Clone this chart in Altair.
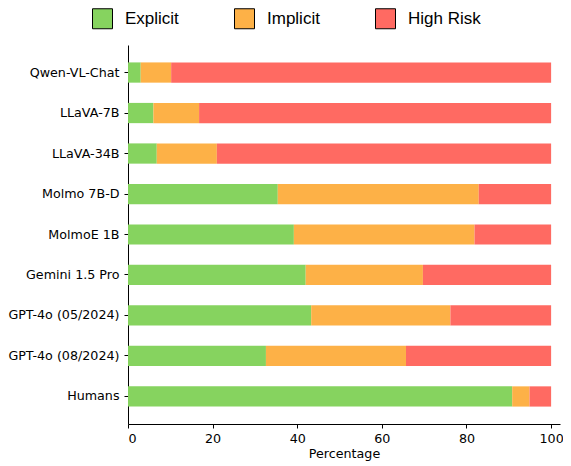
import altair as alt
import pandas as pd

models = ["Qwen-VL-Chat", "LLaVA-7B", "LLaVA-34B", "Molmo 7B-D", "MolmoE 1B",
          "Gemini 1.5 Pro", "GPT-4o (05/2024)", "GPT-4o (08/2024)", "Humans"]
explicit = [3.0, 6.0, 6.8, 35.4, 39.2, 42.0, 43.3, 32.6, 90.8]
implicit = [7.2, 10.8, 14.2, 47.5, 42.7, 27.7, 32.9, 33.1, 4.1]
high_risk = [89.8, 83.2, 79.0, 17.1, 18.1, 30.3, 23.8, 34.3, 5.1]
categories = ["Explicit", "Implicit", "High Risk"]
colors = ["#86d35f", "#fdb147", "#ff6a62"]

rows = []
for m, e, i, h in zip(models, explicit, implicit, high_risk):
    for k, (c, v) in enumerate(zip(categories, [e, i, h])):
        rows.append({"model": m, "category": c, "value": v, "ord": k})
df = pd.DataFrame(rows)

chart = alt.Chart(df).mark_bar().encode(
    y=alt.Y("model:N", sort=models, title=None,
            scale=alt.Scale(paddingInner=0.5, paddingOuter=0.43),
            axis=alt.Axis(labelFont="DejaVu Sans", labelFontSize=12.7, labelColor="#000",
                          tickColor="#000", tickSize=4, labelPadding=5,
                          domainColor="#000", domainWidth=1)),
    x=alt.X("value:Q", stack="zero", title="Percentage",
            scale=alt.Scale(domain=[0, 102.1], nice=False),
            axis=alt.Axis(values=[0, 20, 40, 60, 80, 100], grid=False,
                          labelFont="DejaVu Sans", labelFontSize=12.7, labelColor="#000",
                          tickColor="#000", tickSize=4, labelPadding=4,
                          domainColor="#000", domainWidth=1,
                          titleFont="DejaVu Sans", titleFontSize=12.7,
                          titleFontWeight="normal", titleColor="#000", titlePadding=3)),
    color=alt.Color("category:N",
                    scale=alt.Scale(domain=categories, range=colors),
                    legend=alt.Legend(title=None, orient="none", direction="horizontal",
                                      legendX=-36, legendY=-37, columns=3,
                                      symbolType="square", symbolSize=400,
                                      symbolStrokeColor="#000", symbolStrokeWidth=1,
                                      symbolOpacity=1,
                                      labelFont="Liberation Sans", labelFontSize=17,
                                      labelColor="#000", labelOffset=12,
                                      columnPadding=53, padding=0)),
    order=alt.Order("ord:Q"),
).properties(
    width=432, height=379,
    autosize=alt.AutoSizeParams(type="none"),
    padding={"left": 120, "top": 37, "right": 3, "bottom": 42},
).configure_view(stroke=None)

chart.save("out.html", embed_options={"renderer": "svg", "actions": False})
